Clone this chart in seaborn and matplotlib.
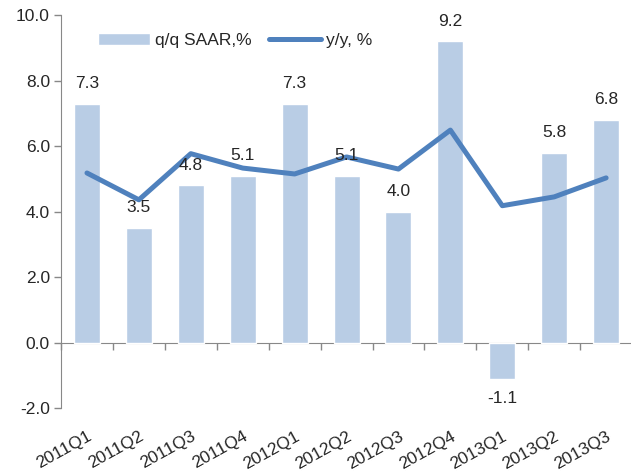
import seaborn as sns
import matplotlib.pyplot as plt

quarters = ['2011Q1', '2011Q2', '2011Q3', '2011Q4', '2012Q1', '2012Q2',
            '2012Q3', '2012Q4', '2013Q1', '2013Q2', '2013Q3']
qq_saar = [7.3, 3.5, 4.8, 5.1, 7.3, 5.1, 4.0, 9.2, -1.1, 5.8, 6.8]
yoy = [5.18, 4.36, 5.77, 5.33, 5.15, 5.67, 5.30, 6.49, 4.18, 4.45, 5.03]
yticks = [-2, 0, 2, 4, 6, 8, 10]

sns.set_style('white')
plt.rcParams['font.family'] = ['Liberation Sans', 'DejaVu Sans']
fs = 12.5

fig = plt.figure(figsize=(6.31, 4.75), dpi=100)
ax = fig.add_axes([0.0967, 0.141, 0.905, 0.827])

sns.barplot(x=quarters, y=qq_saar, color='#b9cde5', saturation=1, width=0.5,
            ax=ax, label='q/q SAAR,%')
sns.lineplot(x=quarters, y=yoy, color='#4f81bd', linewidth=3.6, ax=ax,
             label='y/y, %', solid_joinstyle='round', solid_capstyle='round')

ax.bar_label(ax.containers[0], fmt='%.1f', padding=9, fontsize=fs)

ax.set_ylim(-2, 10)
ax.set_xlim(-0.5, 10.5)
ax.set_yticks(yticks)
ax.set_yticklabels([f'{v:.1f}' for v in yticks], fontsize=fs)
ax.tick_params(axis='y', length=5, color='#888888', width=1, direction='out', left=True, pad=3)
ax.tick_params(axis='x', length=0, pad=15, labelsize=fs)
ax.set_xticks(range(len(quarters)))
ax.set_xticklabels(quarters)
for lab in ax.get_xticklabels():
    lab.set_rotation(29)
    lab.set_ha('right')
    lab.set_rotation_mode('anchor')

for s in ['top', 'right', 'bottom']:
    ax.spines[s].set_visible(False)
ax.spines['left'].set_color('#888888')

# zero line with tick marks between categories
zero = ax.secondary_xaxis(2 / 12)
zero.spines['bottom'].set_color('#888888')
zero.set_xticks([i - 0.5 for i in range(len(quarters) + 1)])
zero.set_xticklabels([])
zero.tick_params(length=5, color='#888888', width=1, direction='out')

ax.set_xlabel('')
ax.set_ylabel('')

h, l = ax.get_legend_handles_labels()
order = [l.index('q/q SAAR,%'), l.index('y/y, %')]
ax.legend([h[i] for i in order], [l[i] for i in order], loc='center',
          bbox_to_anchor=(0.305, 0.936), ncol=2, frameon=False,
          fontsize=fs, handlelength=3.0, handletextpad=0.3, columnspacing=1.0)

fig.savefig('out.png', dpi=100)
